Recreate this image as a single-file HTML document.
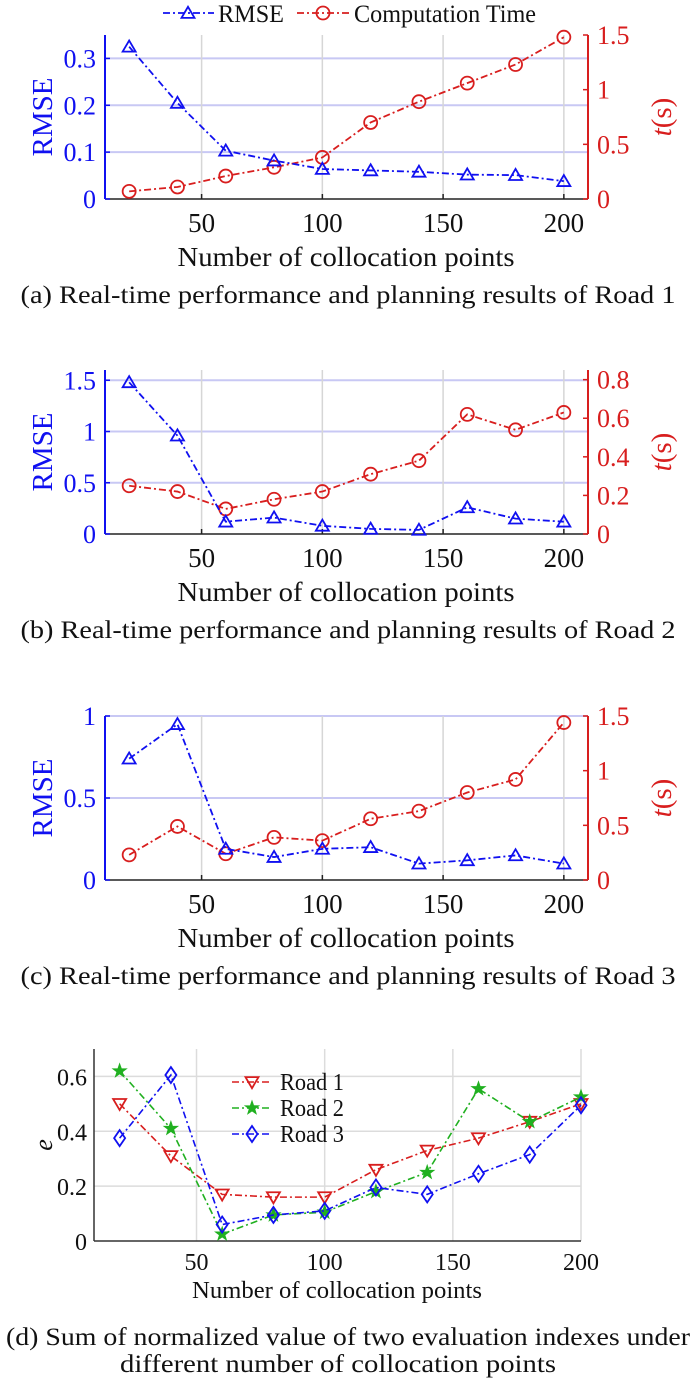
<!DOCTYPE html>
<html><head><meta charset="utf-8"><style>
html,body{margin:0;padding:0;background:#fff}
svg{display:block}
text{font-family:"Liberation Serif","Times New Roman",serif}
</style></head><body>
<svg id="fig" width="700" height="1379" viewBox="0 0 700 1379" xmlns="http://www.w3.org/2000/svg" font-family="'Liberation Serif', serif"></svg>
<script>
// ---- data ----
const xCats = [20,40,60,80,100,120,140,160,180,200];
const xTicks = [50,100,150,200];
const rmseA = [0.325,0.205,0.103,0.082,0.064,0.061,0.058,0.052,0.051,0.038];
const timeA = [0.07,0.11,0.21,0.29,0.38,0.70,0.89,1.06,1.23,1.48];
const rmseB = [1.48,0.96,0.12,0.16,0.08,0.05,0.04,0.26,0.15,0.12];
const timeB = [0.25,0.22,0.13,0.18,0.22,0.31,0.38,0.62,0.54,0.63];
const rmseC = [0.74,0.95,0.19,0.14,0.19,0.20,0.10,0.12,0.15,0.10];
const timeC = [0.23,0.49,0.24,0.39,0.36,0.56,0.63,0.80,0.92,1.44];
const road1 = [0.50,0.31,0.17,0.16,0.16,0.26,0.33,0.375,0.435,0.50];
const road2 = [0.62,0.41,0.025,0.095,0.105,0.18,0.25,0.555,0.435,0.525];
const road3 = [0.375,0.605,0.06,0.095,0.11,0.195,0.17,0.245,0.315,0.495];
const leftTicksA = [0,0.1,0.2,0.3], rightTicksA = [0,0.5,1,1.5];
const leftTicksB = [0,0.5,1,1.5], rightTicksB = [0,0.2,0.4,0.6,0.8];
const leftTicksC = [0,0.5,1], rightTicksC = [0,0.5,1,1.5];
const eTicks = [0,0.2,0.4,0.6];

const NS="http://www.w3.org/2000/svg";
const svg=document.getElementById('fig');
const BLUE="#1010f0", RED="#d81e1e", GREEN="#20b020";
const DASH="7 3 2 3";
const FONT="Liberation Serif, Times New Roman, serif";
function el(tag,attrs,parent){const e=document.createElementNS(NS,tag);for(const k in attrs)e.setAttribute(k,attrs[k]);(parent||svg).appendChild(e);return e;}
function txt(s,attrs,parent){attrs['font-family']=FONT;const t=el('text',attrs,parent);t.textContent=s;return t;}
function fmt(v){return String(v);}
function tri(g,x,y,c,down){const s=6.5;const p=down?`${x-s},${y-s*0.75} ${x+s},${y-s*0.75} ${x},${y+s*0.95}`:`${x-s},${y+s*0.75} ${x+s},${y+s*0.75} ${x},${y-s*0.95}`;return el('polygon',{points:p,fill:'none',stroke:c,'stroke-width':1.8},g);}
function circ(g,x,y,c){return el('circle',{cx:x,cy:y,r:6.5,fill:'none',stroke:c,'stroke-width':1.8},g);}
function star(g,x,y,c){let p=[];for(let i=0;i<10;i++){const r=i%2?2.8:7;const a=-Math.PI/2+i*Math.PI/5;p.push((x+r*Math.cos(a)).toFixed(1)+','+(y+r*Math.sin(a)).toFixed(1));}return el('polygon',{points:p.join(' '),fill:c,stroke:c,'stroke-width':1},g);}
function diam(g,x,y,c){return el('polygon',{points:`${x},${y-8} ${x+5.5},${y} ${x},${y+8} ${x-5.5},${y}`,fill:'none',stroke:c,'stroke-width':1.8},g);}

function dualPlot(name,top,bot,rmse,time,lt,rt,lmax,rmax,cap){
  const g=el('g',{});
  
  
  const L=105,R=588;
  const xs=v=>L+(v-10)*(R-L)/200;
  const yl=v=>bot-v*(bot-top)/lmax;
  const yr=v=>bot-v*(bot-top)/rmax;
  lt.forEach(v=>{if(v>0)el('line',{x1:L,x2:R,y1:yl(v),y2:yl(v),stroke:'#c8c8f4','stroke-width':2},g);});
  xTicks.forEach(v=>{el('line',{x1:xs(v),x2:xs(v),y1:top,y2:bot,stroke:'#d6d6d6','stroke-width':1.5},g);});
  el('line',{x1:L,x2:R,y1:bot,y2:bot,stroke:'#222','stroke-width':1.5},g);
  el('line',{x1:L,x2:L,y1:top,y2:bot,stroke:BLUE,'stroke-width':2},g);
  el('line',{x1:R,x2:R,y1:top,y2:bot,stroke:RED,'stroke-width':2},g);
  xTicks.forEach(v=>{el('line',{x1:xs(v),x2:xs(v),y1:bot,y2:bot-5,stroke:'#222','stroke-width':1.5},g);
    const t=txt(fmt(v),{x:xs(v),y:bot+33,'font-size':27,'text-anchor':'middle',fill:'#111'},g);
    });
  lt.forEach(v=>{el('line',{x1:L,x2:L+5,y1:yl(v),y2:yl(v),stroke:BLUE,'stroke-width':1.5},g);
    const t=txt(fmt(v),{x:96,y:yl(v)+9,'font-size':26,'text-anchor':'end',fill:BLUE},g);
    });
  rt.forEach(v=>{el('line',{x1:R,x2:R-5,y1:yr(v),y2:yr(v),stroke:RED,'stroke-width':1.5},g);
    const t=txt(fmt(v),{x:597,y:yr(v)+9,'font-size':26,'text-anchor':'start',fill:RED},g);
    });
  const cy=(top+bot)/2;
  const yt=txt('RMSE',{x:0,y:0,'font-size':29,'text-anchor':'middle',fill:BLUE,transform:`translate(52,${cy}) rotate(-90)`},g);
  
  const rtt=el('text',{x:0,y:0,'font-size':29,'font-family':FONT,'text-anchor':'middle',fill:RED,transform:`translate(671,${cy}) rotate(-90)`},g);
  rtt.innerHTML='<tspan font-style="italic">t</tspan>(s)';
  
  const xl=txt('Number of collocation points',{x:346,y:bot+67,'font-size':27,'text-anchor':'middle',fill:'#111',textLength:337,lengthAdjust:'spacingAndGlyphs'},g);
  
  const c=txt(cap,{x:348,y:bot+104,'font-size':25,'text-anchor':'middle',fill:'#111',textLength:655,lengthAdjust:'spacingAndGlyphs'},g);
  
  const pr=xCats.map((v,i)=>xs(v)+','+yr(time[i])).join(' ');
  const lr=el('polyline',{points:pr,fill:'none',stroke:RED,'stroke-width':1.8,'stroke-dasharray':DASH},g);
  
  xCats.forEach((v,i)=>{const m=circ(g,xs(v),yr(time[i]),RED);});
  const pb=xCats.map((v,i)=>xs(v)+','+yl(rmse[i])).join(' ');
  const lb=el('polyline',{points:pb,fill:'none',stroke:BLUE,'stroke-width':1.8,'stroke-dasharray':DASH},g);
  
  xCats.forEach((v,i)=>{const m=tri(g,xs(v),yl(rmse[i]),BLUE,false);});
}

(function(){
  const g=el('g',{});
  
  
  el('line',{x1:163,x2:214,y1:13,y2:13,stroke:BLUE,'stroke-width':1.8,'stroke-dasharray':DASH},g);
  tri(g,188,13,BLUE,false);
  const t1=txt('RMSE',{x:218,y:22,'font-size':25,fill:'#111',textLength:66,lengthAdjust:'spacingAndGlyphs'},g);
  
  el('line',{x1:297,x2:350,y1:13,y2:13,stroke:RED,'stroke-width':1.8,'stroke-dasharray':DASH},g);
  circ(g,323,13,RED);
  const t2=txt('Computation Time',{x:354,y:22,'font-size':25,fill:'#111',textLength:182,lengthAdjust:'spacingAndGlyphs'},g);
  
})();

dualPlot('chart-road-1',35,199,rmseA,timeA,leftTicksA,rightTicksA,0.35,1.5,'(a) Real-time performance and planning results of Road 1');
dualPlot('chart-road-2',370,534,rmseB,timeB,leftTicksB,rightTicksB,1.6,0.85,'(b) Real-time performance and planning results of Road 2');
dualPlot('chart-road-3',716,880,rmseC,timeC,leftTicksC,rightTicksC,1.0,1.5,'(c) Real-time performance and planning results of Road 3');

(function(){
  const g=el('g',{});
  
  
  const L=94,R=581,top=1049,bot=1241;
  const xs=v=>L+(v-10)*(R-L)/190;
  const ys=v=>bot-v*(bot-top)/0.7;
  eTicks.forEach(v=>{if(v>0)el('line',{x1:L,x2:R,y1:ys(v),y2:ys(v),stroke:'#dcdcdc','stroke-width':1.5},g);});
  xTicks.forEach(v=>{el('line',{x1:xs(v),x2:xs(v),y1:top,y2:bot,stroke:'#dcdcdc','stroke-width':1.5},g);});
  el('line',{x1:L,x2:R,y1:bot,y2:bot,stroke:'#333','stroke-width':1.5},g);
  el('line',{x1:L,x2:L,y1:top,y2:bot,stroke:'#333','stroke-width':1.5},g);
  xTicks.forEach(v=>{const t=txt(fmt(v),{x:xs(v),y:bot+29,'font-size':24,'text-anchor':'middle',fill:'#111'},g);
    });
  eTicks.forEach(v=>{const t=txt(fmt(v),{x:87,y:ys(v)+9,'font-size':24,'text-anchor':'end',fill:'#111'},g);
    });
  const yt=txt('e',{x:0,y:0,'font-size':26,'font-style':'italic','text-anchor':'middle',fill:'#111',transform:`translate(52,${(top+bot)/2}) rotate(-90)`},g);
  
  const xl=txt('Number of collocation points',{x:337,y:1298,'font-size':24,'text-anchor':'middle',fill:'#111',textLength:290,lengthAdjust:'spacingAndGlyphs'},g);
  
  const c1=txt('(d) Sum of normalized value of two evaluation indexes under',{x:348,y:1345,'font-size':25,'text-anchor':'middle',fill:'#111',textLength:684,lengthAdjust:'spacingAndGlyphs'},g);
  
  const c2=txt('different number of collocation points',{x:338,y:1372,'font-size':25,'text-anchor':'middle',fill:'#111',textLength:436,lengthAdjust:'spacingAndGlyphs'},g);
  
  const series=[[road1,RED,'road-1',(gg,x,y,c)=>tri(gg,x,y,c,true)],[road2,GREEN,'road-2',star],[road3,BLUE,'road-3',diam]];
  series.forEach(([d,c,n,mk])=>{
    const ln=el('polyline',{points:xCats.map((v,i)=>xs(v)+','+ys(d[i])).join(' '),fill:'none',stroke:c,'stroke-width':1.6,'stroke-dasharray':DASH},g);
    
    xCats.forEach((v,i)=>{const m=mk(g,xs(v),ys(d[i]),c);});
  });
  const names=['Road 1','Road 2','Road 3'];
  series.forEach(([d,c,n,mk],k)=>{
    const y=1082+k*26;
    el('line',{x1:232,x2:272,y1:y,y2:y,stroke:c,'stroke-width':1.6,'stroke-dasharray':DASH},g);
    mk(g,252,y,c);
    const t=txt(names[k],{x:280,y:y+8,'font-size':24,fill:'#111',textLength:64,lengthAdjust:'spacingAndGlyphs'},g);
    
  });
})();
</script>
</body></html>
